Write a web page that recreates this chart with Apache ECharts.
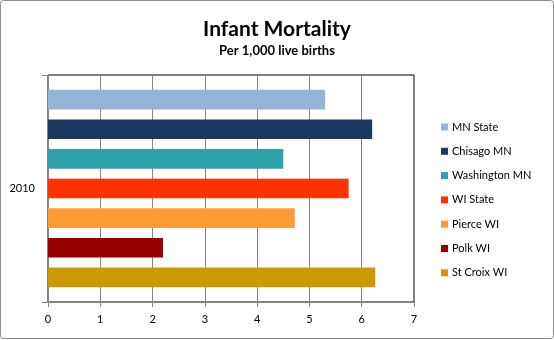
<!DOCTYPE html>
<html>
<head>
<meta charset="utf-8">
<script src="https://cdn.jsdelivr.net/npm/echarts@6/dist/echarts.min.js"></script>
<style>
  html, body { margin: 0; padding: 0; background: #fff; }
  #chart { width: 554px; height: 340px; }
</style>
</head>
<body>
<div id="chart"></div>
<script>
// Infant mortality per 1,000 live births, 2010
const years = ['2010'];
const regions = ['MN State', 'Chisago MN', 'Washington MN', 'WI State', 'Pierce WI', 'Polk WI', 'St Croix WI'];
const rates = [5.3, 6.2, 4.5, 5.75, 4.72, 2.2, 6.26];
const regionColors = ['#95B3D7', '#1B385F', '#2EA1AD', '#FF3300', '#FF9933', '#990000', '#CC9900'];
const xTicks = [0, 1, 2, 3, 4, 5, 6, 7];

const FONT = 'Lato, "Liberation Sans", sans-serif';
const gray = '#868686';

const series = regions.map((name, i) => ({
  name: name,
  type: 'bar',
  data: [rates[i]],
  barGap: '50.7%',
  barCategoryGap: '13%',
  itemStyle: { color: regionColors[i] },
  animation: false
}));

const chart = echarts.init(document.getElementById('chart'), null, { renderer: 'canvas' });
chart.setOption({
  backgroundColor: '#fff',
  animation: false,
  title: [
    { text: 'Infant Mortality', left: 'center', top: 14,
      textStyle: { fontFamily: FONT, fontWeight: 'bold', fontSize: 21, color: '#000' } },
    { text: 'Per 1,000 live births', left: 'center', top: 39,
      textStyle: { fontFamily: FONT, fontWeight: 'bold', fontSize: 13, color: '#000' } }
  ],
  graphic: [
    { type: 'rect', shape: { x: 0.5, y: 0.5, width: 553, height: 338, r: 3 },
      style: { fill: 'none', stroke: '#8c8c8c', lineWidth: 1 }, z: 100 }
  ],
  legend: {
    orient: 'vertical',
    left: 436,
    top: 116,
    icon: 'rect',
    itemWidth: 7,
    itemHeight: 7,
    itemGap: 12.3,
    data: regions,
    textStyle: { fontFamily: FONT, fontSize: 11, color: '#000', lineHeight: 12, padding: [0, 0, 0, -1] }
  },
  grid: {
    left: 48, right: 140, top: 75, bottom: 38,
    show: true, borderColor: '#000', borderWidth: 1, backgroundColor: 'transparent'
  },
  xAxis: {
    type: 'value',
    min: xTicks[0],
    max: xTicks[xTicks.length - 1],
    interval: 1,
    axisLine: { show: true, lineStyle: { color: gray } },
    axisTick: { show: true, length: 5, lineStyle: { color: gray } },
    splitLine: { show: true, lineStyle: { color: gray } },
    axisLabel: { fontFamily: FONT, fontSize: 11, color: '#000', margin: 12 }
  },
  yAxis: {
    type: 'category',
    data: years,
    inverse: true,
    axisLine: { show: true, lineStyle: { color: gray } },
    axisTick: { show: true, length: 6, lineStyle: { color: gray } },
    axisLabel: { fontFamily: FONT, fontSize: 11, color: '#000', margin: 13 }
  },
  series: series
});
</script>
</body>
</html>
